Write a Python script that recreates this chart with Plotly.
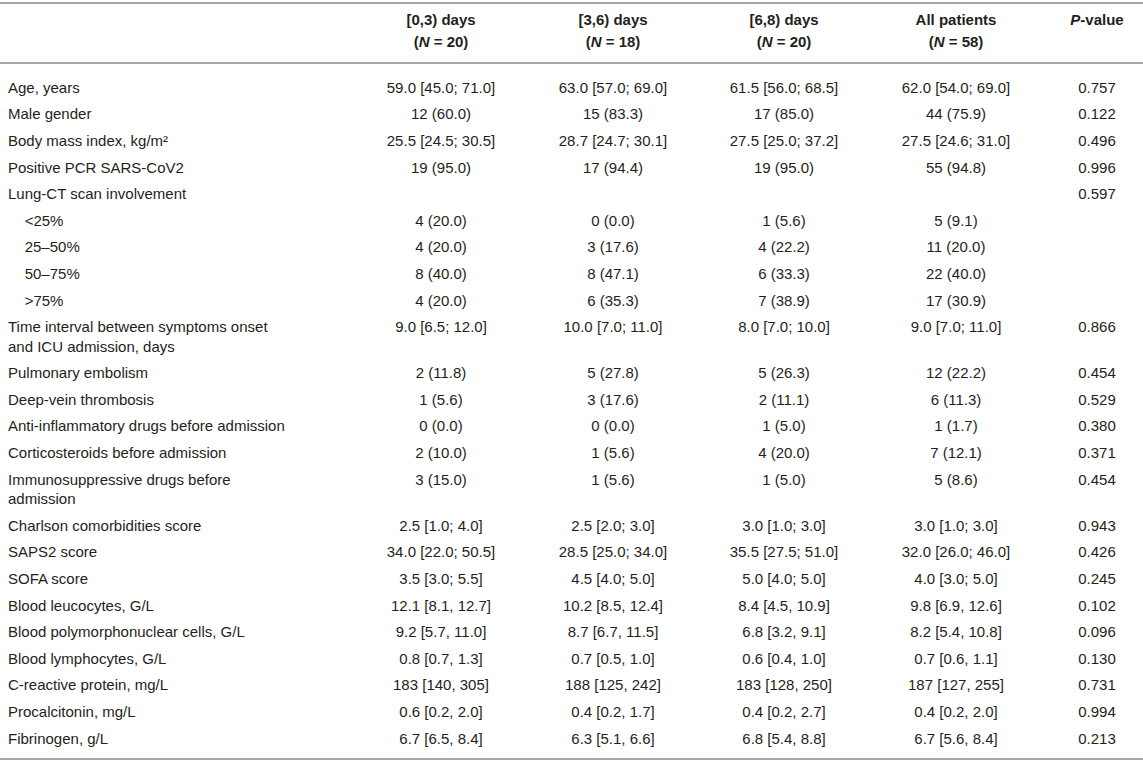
import plotly.graph_objects as go

labels = [
    "Age, years", "Male gender", "Body mass index, kg/m²", "Positive PCR SARS-CoV2",
    "Lung-CT scan involvement", "   <25%", "   25–50%", "   50–75%", "   >75%",
    "Time interval between symptoms onset<br>and ICU admission, days",
    "Pulmonary embolism", "Deep-vein thrombosis", "Anti-inflammatory drugs before admission",
    "Corticosteroids before admission", "Immunosuppressive drugs before<br>admission",
    "Charlson comorbidities score", "SAPS2 score", "SOFA score", "Blood leucocytes, G/L",
    "Blood polymorphonuclear cells, G/L", "Blood lymphocytes, G/L", "C-reactive protein, mg/L",
    "Procalcitonin, mg/L", "Fibrinogen, g/L",
]
col_0_3 = ["59.0 [45.0; 71.0]", "12 (60.0)", "25.5 [24.5; 30.5]", "19 (95.0)", "",
           "4 (20.0)", "4 (20.0)", "8 (40.0)", "4 (20.0)", "9.0 [6.5; 12.0]",
           "2 (11.8)", "1 (5.6)", "0 (0.0)", "2 (10.0)", "3 (15.0)",
           "2.5 [1.0; 4.0]", "34.0 [22.0; 50.5]", "3.5 [3.0; 5.5]", "12.1 [8.1, 12.7]",
           "9.2 [5.7, 11.0]", "0.8 [0.7, 1.3]", "183 [140, 305]", "0.6 [0.2, 2.0]", "6.7 [6.5, 8.4]"]
col_3_6 = ["63.0 [57.0; 69.0]", "15 (83.3)", "28.7 [24.7; 30.1]", "17 (94.4)", "",
           "0 (0.0)", "3 (17.6)", "8 (47.1)", "6 (35.3)", "10.0 [7.0; 11.0]",
           "5 (27.8)", "3 (17.6)", "0 (0.0)", "1 (5.6)", "1 (5.6)",
           "2.5 [2.0; 3.0]", "28.5 [25.0; 34.0]", "4.5 [4.0; 5.0]", "10.2 [8.5, 12.4]",
           "8.7 [6.7, 11.5]", "0.7 [0.5, 1.0]", "188 [125, 242]", "0.4 [0.2, 1.7]", "6.3 [5.1, 6.6]"]
col_6_8 = ["61.5 [56.0; 68.5]", "17 (85.0)", "27.5 [25.0; 37.2]", "19 (95.0)", "",
           "1 (5.6)", "4 (22.2)", "6 (33.3)", "7 (38.9)", "8.0 [7.0; 10.0]",
           "5 (26.3)", "2 (11.1)", "1 (5.0)", "4 (20.0)", "1 (5.0)",
           "3.0 [1.0; 3.0]", "35.5 [27.5; 51.0]", "5.0 [4.0; 5.0]", "8.4 [4.5, 10.9]",
           "6.8 [3.2, 9.1]", "0.6 [0.4, 1.0]", "183 [128, 250]", "0.4 [0.2, 2.7]", "6.8 [5.4, 8.8]"]
col_all = ["62.0 [54.0; 69.0]", "44 (75.9)", "27.5 [24.6; 31.0]", "55 (94.8)", "",
           "5 (9.1)", "11 (20.0)", "22 (40.0)", "17 (30.9)", "9.0 [7.0; 11.0]",
           "12 (22.2)", "6 (11.3)", "1 (1.7)", "7 (12.1)", "5 (8.6)",
           "3.0 [1.0; 3.0]", "32.0 [26.0; 46.0]", "4.0 [3.0; 5.0]", "9.8 [6.9, 12.6]",
           "8.2 [5.4, 10.8]", "0.7 [0.6, 1.1]", "187 [127, 255]", "0.4 [0.2, 2.0]", "6.7 [5.6, 8.4]"]
p_values = ["0.757", "0.122", "0.496", "0.996", "0.597", "", "", "", "", "0.866",
            "0.454", "0.529", "0.380", "0.371", "0.454", "0.943", "0.426", "0.245",
            "0.102", "0.096", "0.130", "0.731", "0.994", "0.213"]
header_line1 = ["[0,3) days", "[3,6) days", "[6,8) days", "All patients", "<i>P</i>-value"]
header_line2 = ["(<i>N</i> = 20)", "(<i>N</i> = 18)", "(<i>N</i> = 20)", "(<i>N</i> = 58)", ""]

W, H = 1143, 762
FONT = "Liberation Sans, Arial, sans-serif"
TXT = "#231f20"
RULE = "#a6a6a6"
FS = 15
col_x = [8, 441, 613, 784, 956, 1097]
row_h = 26.6
line_h = 19.5
top_rule = 3
head_rule = 63
first_row = 89
head_y1, head_y2 = 21, 43

ys = []
y = first_row
for lab in labels:
    ys.append(y)
    y += row_h + line_h * lab.count("<br>")
bottom_rule = ys[-1] + row_h / 2 + 6

fig = go.Figure()
columns = [labels, col_0_3, col_3_6, col_6_8, col_all, p_values]
for i, col in enumerate(columns):
    fig.add_trace(go.Scatter(
        x=[col_x[i]] * len(col),
        y=[yy + (line_h / 2) * c.count("<br>") for yy, c in zip(ys, col)],
        text=[c.replace("   ", "&nbsp;&nbsp;&nbsp;&nbsp;") for c in col], mode="text",
        textposition="middle right" if i == 0 else "middle center",
        textfont=dict(family=FONT, size=FS, color=TXT),
        hoverinfo="skip", showlegend=False, cliponaxis=False))

for hy, hl in [(head_y1, header_line1), (head_y2, header_line2)]:
    fig.add_trace(go.Scatter(
        x=col_x[1:], y=[hy] * len(hl),
        text=["<b>" + h + "</b>" if h else "" for h in hl], mode="text",
        textposition="middle center",
        textfont=dict(family=FONT, size=FS, color=TXT),
        hoverinfo="skip", showlegend=False, cliponaxis=False))

for yr in [top_rule, head_rule, bottom_rule]:
    fig.add_shape(type="line", x0=0, x1=W, y0=yr, y1=yr, xref="x", yref="y",
                  line=dict(color=RULE, width=2))

fig.update_layout(
    width=W, height=H, margin=dict(l=0, r=0, t=0, b=0),
    plot_bgcolor="white", paper_bgcolor="white",
    xaxis=dict(range=[0, W], visible=False, fixedrange=True),
    yaxis=dict(range=[H, 0], visible=False, fixedrange=True),
)
fig.write_html("out.html", config={"displayModeBar": False, "staticPlot": True},
               post_script="document.body.style.margin='0';document.body.style.overflow='hidden';")
